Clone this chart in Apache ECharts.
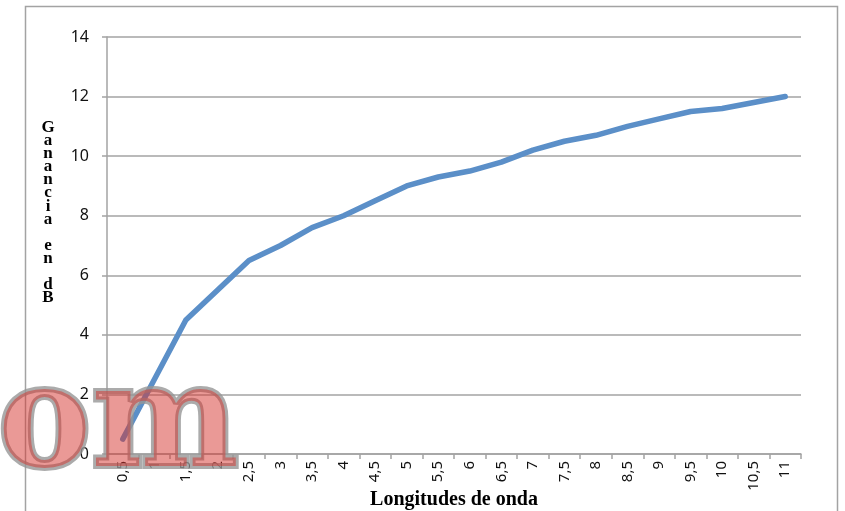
<!DOCTYPE html>
<html>
<head>
<meta charset="utf-8">
<script src="https://cdn.jsdelivr.net/npm/echarts@6/dist/echarts.min.js"></script>
<style>
  html, body { margin: 0; padding: 0; background: #fff; }
  #chart { width: 845px; height: 511px; }
</style>
</head>
<body>
<div id="chart"></div>
<script>
// Wavelength categories (x) and antenna gain in dB (y)
const longitudes = ['0,5','1','1,5','2','2,5','3','3,5','4','4,5','5','5,5','6','6,5','7','7,5','8','8,5','9','9,5','10','10,5','11'];
const ganancia = [0.5, 2.5, 4.5, 5.5, 6.5, 7.0, 7.6, 8.0, 8.5, 9.0, 9.3, 9.5, 9.8, 10.2, 10.5, 10.7, 11.0, 11.25, 11.5, 11.6, 11.8, 12.0];
const yTicks = { min: 0, max: 14, interval: 2 };

const yTitle = 'Ganancia en dB';
const xTitle = 'Longitudes de onda';

const chart = echarts.init(document.getElementById('chart'));
const gray = '#a3a3a3';

chart.setOption({
  animation: false,
  backgroundColor: '#fff',
  grid: { left: 107, right: 44, top: 37, bottom: 57 },
  xAxis: {
    type: 'category',
    data: longitudes,
    boundaryGap: true,
    axisLine: { lineStyle: { color: gray, width: 1.5 } },
    axisTick: { show: true, length: 5, lineStyle: { color: gray, width: 1.5 } },
    axisLabel: {
      rotate: 90, interval: 0, margin: 7,
      fontFamily: 'Noto Sans', fontSize: 15, color: '#111'
    },
    splitLine: { show: false }
  },
  yAxis: {
    type: 'value',
    min: yTicks.min, max: yTicks.max, interval: yTicks.interval,
    axisLine: { show: true, lineStyle: { color: gray, width: 1.5 } },
    axisTick: { show: true, length: 5, lineStyle: { color: gray, width: 1.5 } },
    axisLabel: { margin: 18, fontFamily: 'Noto Sans', fontSize: 16, color: '#111' },
    splitLine: { show: true, lineStyle: { color: gray, width: 1.5 } }
  },
  series: [{
    type: 'line',
    data: ganancia,
    symbol: 'none',
    lineStyle: { color: '#5b8fc8', width: 5.5, cap: 'round', join: 'round' },
    z: 3
  }],
  graphic: [
    // outer chart frame
    {
      type: 'rect', silent: true, z: 0,
      shape: { x: 25.5, y: 6.5, width: 812, height: 520 },
      style: { fill: 'none', stroke: gray, lineWidth: 1.5 }
    },
    // vertical stacked-letter axis title
    {
      type: 'text', z: 10,
      x: 48, y: 121,
      style: {
        text: yTitle.split('').join('\n'),
        font: 'bold 17px "Liberation Serif"',
        lineHeight: 13.1,
        fill: '#000',
        align: 'center'
      }
    },
    // horizontal axis title
    {
      type: 'text', z: 10,
      x: 454, y: 490,
      style: {
        text: xTitle,
        font: 'bold 20px "Liberation Serif"',
        fill: '#000',
        align: 'center'
      }
    },
    // "om" overlay mark
    {
      type: 'text', z: 100,
      x: -2, y: 501, scaleX: 0.97,
      style: {
        text: 'om',
        font: 'bold 144px "DejaVu Serif"',
        fill: 'rgba(214,52,46,0.5)',
        stroke: 'rgba(150,150,150,0.8)',
        lineWidth: 6,
        lineJoin: 'round',
        verticalAlign: 'bottom',
        align: 'left'
      }
    }
  ]
});
</script>
</body>
</html>
